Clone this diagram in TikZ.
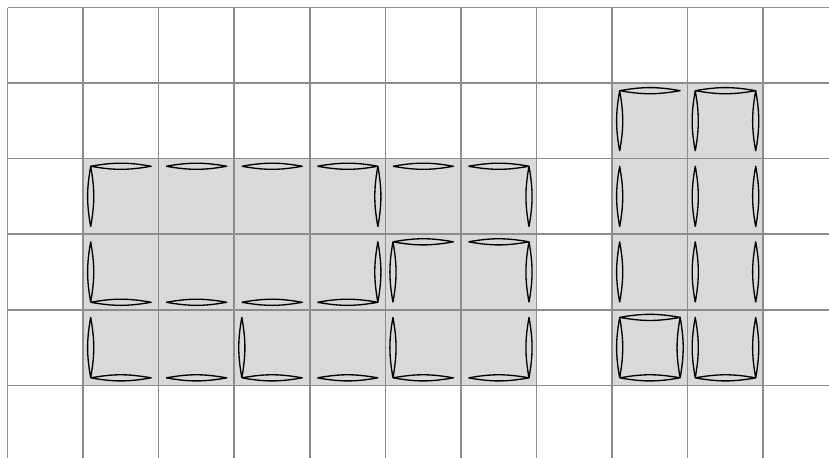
\documentclass[tikz,border=0pt]{standalone}
\usepackage{xcolor}
\definecolor{gridgray}{HTML}{8C8C8C}
\definecolor{cellgray}{HTML}{D9D9D9}
\tikzset{
  gridline/.style={draw=gridgray, line width=0.6pt},
  cellfill/.style={fill=cellgray},
  lens/.style={draw=black, line width=0.5pt, line join=round},
  lensbend/.style={bend left=10},
}
% one lens between two points
\newcommand{\lensbetween}[2]{\draw[lens] #1 to[lensbend] #2 to[lensbend] #1;}

\begin{document}
\begin{tikzpicture}[x=1cm, y=1cm]
  \useasboundingbox (-0.1,0.04) rectangle (10.87,6.1);

  % shaded blocks
  \fill[cellfill] (1,1) rectangle (7,4);
  \fill[cellfill] (8,1) rectangle (10,5);

  % grid
  \draw[gridline] (0,0.04) grid (10.87,6);

  % lenses on the top edge
  \foreach \c/\r in {1/3,2/3,3/3,4/3,5/3,6/3,5/2,6/2,8/4,9/4,8/1}{
    \lensbetween{(\c+0.1,\r+0.9)}{(\c+0.9,\r+0.9)}
  }
  % lenses on the bottom edge
  \foreach \c/\r in {1/2,2/2,3/2,4/2,1/1,2/1,3/1,4/1,5/1,6/1,8/1,9/1}{
    \lensbetween{(\c+0.1,\r+0.1)}{(\c+0.9,\r+0.1)}
  }
  % lenses on the left edge
  \foreach \c/\r in {1/3,1/2,5/2,1/1,3/1,5/1,8/4,9/4,8/3,9/3,8/2,9/2,8/1,9/1}{
    \lensbetween{(\c+0.1,\r+0.1)}{(\c+0.1,\r+0.9)}
  }
  % lenses on the right edge
  \foreach \c/\r in {4/3,6/3,4/2,6/2,6/1,9/4,9/3,9/2,8/1,9/1}{
    \lensbetween{(\c+0.9,\r+0.1)}{(\c+0.9,\r+0.9)}
  }
\end{tikzpicture}
\end{document}
